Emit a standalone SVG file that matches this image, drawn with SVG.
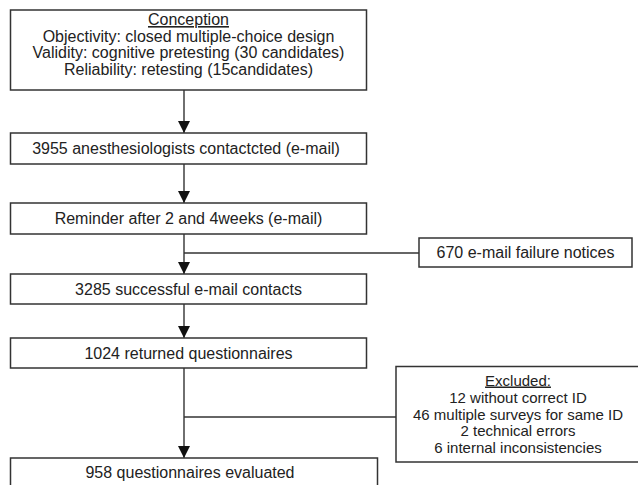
<svg xmlns="http://www.w3.org/2000/svg" width="638" height="485" viewBox="0 0 638 485">
  <defs>
    <style>
      .box { fill: #ffffff; stroke: #333333; stroke-width: 1.5; }
      .conn { fill: none; stroke: #333333; stroke-width: 1.4; }
      .t { font-family: "Liberation Sans", Arial, sans-serif; font-size: 16px; fill: #222222; text-anchor: middle; }
      .ts { font-family: "Liberation Sans", Arial, sans-serif; font-size: 15px; fill: #222222; text-anchor: middle; }
      .u { text-decoration: underline; }
    </style>
    <marker id="arr" markerUnits="userSpaceOnUse" markerWidth="12" markerHeight="12" refX="12" refY="6" orient="auto">
      <path d="M0,0 L12,6 L0,12 z" fill="#111111"/>
    </marker>
  </defs>
  <rect width="638" height="485" fill="#ffffff"/>

  <g id="connectors">
    <line class="conn" x1="184" y1="90" x2="184" y2="133" marker-end="url(#arr)"/>
    <line class="conn" x1="184" y1="164" x2="184" y2="203" marker-end="url(#arr)"/>
    <line class="conn" x1="184" y1="234" x2="184" y2="274" marker-end="url(#arr)"/>
    <line class="conn" x1="184" y1="253" x2="419" y2="253"/>
    <line class="conn" x1="184" y1="304" x2="184" y2="338" marker-end="url(#arr)"/>
    <line class="conn" x1="184" y1="368" x2="184" y2="458" marker-end="url(#arr)"/>
    <line class="conn" x1="184" y1="417" x2="396" y2="417"/>
  </g>

  <g id="node-conception">
    <rect class="box" x="10.5" y="10" width="356" height="80"/>
    <text class="t u" x="188.5" y="25">Conception</text>
    <text class="t" x="188.5" y="41.5">Objectivity: closed multiple-choice design</text>
    <text class="t" x="188.5" y="58">Validity: cognitive pretesting (30 candidates)</text>
    <text class="t" x="188.5" y="74.5">Reliability: retesting (15candidates)</text>
  </g>

  <g id="node-contacted">
    <rect class="box" x="10.5" y="133" width="356" height="31"/>
    <text class="t" x="186" y="154">3955 anesthesiologists contactcted (e-mail)</text>
  </g>

  <g id="node-reminder">
    <rect class="box" x="10.5" y="203" width="356" height="31"/>
    <text class="t" x="188.5" y="224">Reminder after 2 and 4weeks (e-mail)</text>
  </g>

  <g id="node-failure">
    <rect class="box" x="419" y="238" width="213" height="29"/>
    <text class="t" x="525.5" y="258">670 e-mail failure notices</text>
  </g>

  <g id="node-successful">
    <rect class="box" x="10.5" y="274" width="356" height="30"/>
    <text class="t" x="188.5" y="295">3285 successful e-mail contacts</text>
  </g>

  <g id="node-returned">
    <rect class="box" x="10.5" y="338" width="356" height="30"/>
    <text class="t" x="188.5" y="359">1024 returned questionnaires</text>
  </g>

  <g id="node-excluded">
    <rect class="box" x="396" y="366.5" width="250" height="95.5"/>
    <text class="ts u" x="518" y="385.5">Excluded:</text>
    <text class="ts" x="518" y="402.5">12 without correct ID</text>
    <text class="ts" x="518" y="419.5">46 multiple surveys for same ID</text>
    <text class="ts" x="518" y="436">2 technical errors</text>
    <text class="ts" x="518" y="452.5">6 internal inconsistencies</text>
  </g>

  <g id="node-evaluated">
    <rect class="box" x="10.5" y="458" width="367" height="40"/>
    <text class="t" x="190" y="478">958 questionnaires evaluated</text>
  </g>
</svg>
